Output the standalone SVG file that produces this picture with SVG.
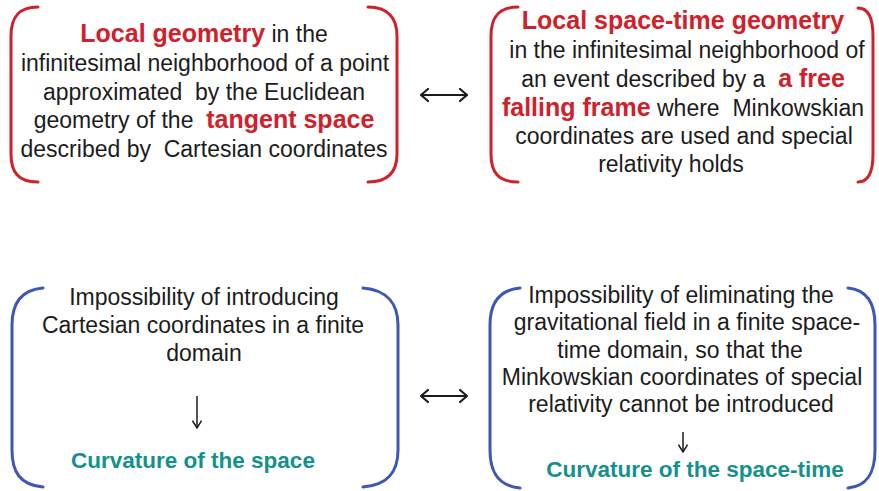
<svg xmlns="http://www.w3.org/2000/svg" width="879" height="491" viewBox="0 0 879 491">
<style>
.t{font-family:"Liberation Sans",Arial,sans-serif;font-size:23px;fill:#1c1c1c;text-anchor:middle}
.r{font-weight:bold;fill:#d0202a;font-size:25px}
.g{font-family:"Liberation Sans",Arial,sans-serif;font-weight:bold;font-size:22.5px;fill:#14918a;text-anchor:middle}
.br{fill:none;stroke:#d0202a;stroke-width:3;stroke-linecap:round}
.bb{fill:none;stroke:#3c57b4;stroke-width:3;stroke-linecap:round}
.ar{fill:none;stroke:#1c1c1c;stroke-width:2.2}
.ar2{fill:none;stroke:#1c1c1c;stroke-width:1.5}
</style>
<defs>
<marker id="h" viewBox="0 0 12 14" refX="11" refY="7" markerWidth="12" markerHeight="14" markerUnits="userSpaceOnUse" orient="auto-start-reverse">
<path d="M4 1 L11 7 L4 13" fill="none" stroke="#1c1c1c" stroke-width="2.2" stroke-linecap="round"/>
</marker>
<marker id="hs" viewBox="0 0 12 12" refX="11" refY="6" markerWidth="11" markerHeight="11" markerUnits="userSpaceOnUse" orient="auto">
<path d="M3 1 L11 6 L3 11" fill="none" stroke="#1c1c1c" stroke-width="1.6"/>
</marker>
</defs>
<rect width="879" height="491" fill="#ffffff"/>
<g id="node-local-geometry">
<path class="br" d="M38 7 C18 7 11 18 11 36 L11 154 C11 172 18 182 38 182"/>
<path class="br" d="M368 7 C388 7 397 18 397 36 L397 154 C397 172 388 182 368 182"/>
<text class="t" x="204" y="42"><tspan class="r">Local geometry</tspan> in the</text>
<text class="t" x="205" y="71">infinitesimal neighborhood of a point</text>
<text class="t" x="204" y="100" xml:space="preserve">approximated  by the Euclidean</text>
<text class="t" x="204" y="128" xml:space="preserve">geometry of the  <tspan class="r">tangent space</tspan></text>
<text class="t" x="204" y="157" xml:space="preserve">described by  Cartesian coordinates</text>
</g>
<g id="node-local-spacetime">
<path class="br" d="M518 7 C498 7 491 18 491 36 L491 154 C491 172 498 182 518 182"/>
<path class="br" d="M858 8 C868 8 873 18 873 36 L873 154 C873 172 868 182 858 182"/>
<text class="t" x="683" y="29"><tspan class="r">Local space-time geometry</tspan></text>
<text class="t" x="687" y="58">in the infinitesimal neighborhood of</text>
<text class="t" x="683" y="87" xml:space="preserve">an event described by a  <tspan class="r">a free</tspan></text>
<text class="t" x="683" y="116" xml:space="preserve"><tspan class="r">falling frame</tspan> where  Minkowskian</text>
<text class="t" x="684" y="144">coordinates are used and special</text>
<text class="t" x="671" y="172">relativity holds</text>
</g>
<g id="node-curvature-space">
<path class="bb" d="M43 288 C20 290 12 305 12 325 L12 450 C12 472 20 485 43 487"/>
<path class="bb" d="M363 288 C388 290 398 305 398 325 L398 450 C398 472 388 485 363 487"/>
<text class="t" x="204" y="305">Impossibility of introducing</text>
<text class="t" x="203" y="333">Cartesian coordinates in a finite</text>
<text class="t" x="204" y="361">domain</text>
<line class="ar2" x1="197" y1="396" x2="197" y2="428" marker-end="url(#hs)"/>
<text class="g" x="193" y="468">Curvature of the space</text>
</g>
<g id="node-curvature-spacetime">
<path class="bb" d="M520 288 C498 290 490 305 490 325 L490 450 C490 472 498 486 520 488"/>
<path class="bb" d="M848 288 C868 290 875 305 875 325 L875 450 C875 472 868 486 848 488"/>
<text class="t" x="681" y="303">Impossibility of eliminating the</text>
<text class="t" x="687" y="330">gravitational field in a finite space-</text>
<text class="t" x="680" y="358">time domain, so that the</text>
<text class="t" x="682" y="385">Minkowskian coordinates of special</text>
<text class="t" x="681" y="412">relativity cannot be introduced</text>
<line class="ar2" x1="683" y1="432" x2="683" y2="452" marker-end="url(#hs)"/>
<text class="g" x="695" y="477">Curvature of the space-time</text>
</g>
<g id="connectors">
<line class="ar" x1="421" y1="95" x2="467" y2="95" marker-start="url(#h)" marker-end="url(#h)"/>
<line class="ar" x1="421" y1="396" x2="467" y2="396" marker-start="url(#h)" marker-end="url(#h)"/>
</g>
</svg>
